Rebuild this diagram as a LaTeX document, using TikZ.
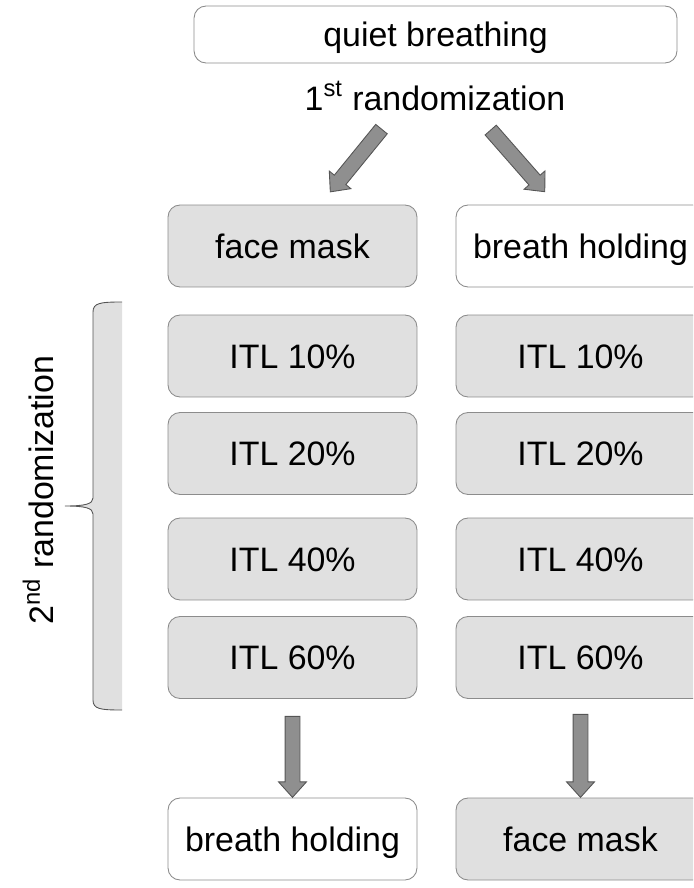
\documentclass[tikz,border=0pt]{standalone}
\usepackage{fontspec}
\setmainfont{Liberation Sans}
\usetikzlibrary{shapes.arrows}
\definecolor{boxgray}{HTML}{E0E0E0}
\definecolor{edgegray}{HTML}{8C8C8C}
\definecolor{arrowgray}{HTML}{8F8F8F}
\definecolor{arrowedge}{HTML}{555555}
\begin{document}
\begin{tikzpicture}[x=0.02cm, y=-0.02cm,
	every node/.style={font=\fontsize{19.3}{23}\selectfont},
	stage/.style={draw=edgegray, rounded corners=0.24cm, minimum width=4.98cm, minimum height=1.64cm, inner sep=0pt, text height=0.49cm, text depth=0pt, line width=0.5pt},
	greybox/.style={stage, fill=boxgray},
	whitebox/.style={stage, fill=white},
	blockarrow/.style={single arrow, draw=arrowedge, fill=arrowgray, sloped, allow upside down, inner xsep=0pt, inner ysep=0.14cm, single arrow head extend=0.13cm, single arrow tip angle=84, line width=0.5pt}]
	\clip (0,0) rectangle (693,888);

	\node[whitebox, minimum width=9.66cm, minimum height=1.14cm] (quiet) at (435.5,34.5) {quiet breathing};
	\node (rand1) at (435,96) {1\textsuperscript{st} randomization};

	\node[greybox] (fmA) at (292.5,246) {face mask};
	\node[whitebox] (bhA) at (580.5,246) {breath holding};
	\foreach \lvl/\y [count=\i] in {10/356, 20/453.5, 40/559, 60/657.5} {
		\node[greybox] (itlL\i) at (292.5,\y) {ITL \lvl\%};
		\node[greybox] (itlR\i) at (580.5,\y) {ITL \lvl\%};
	}
	\node[whitebox] (bhB) at (292.5,839) {breath holding};
	\node[greybox] (fmB) at (580.5,839) {face mask};

	% block arrows
	\path ([xshift=-1.02cm,yshift=-0.6cm]rand1.center) -- node[blockarrow, minimum height=1.62cm] {} ([xshift=0.81cm,yshift=0.32cm]fmA.north);
	\path ([xshift=1.06cm,yshift=-0.62cm]rand1.center) -- node[blockarrow, minimum height=1.64cm] {} ([xshift=-0.77cm,yshift=0.32cm]bhA.north);
	\path ([yshift=-0.28cm]itlL4.south) -- node[blockarrow, minimum height=1.62cm] {} ([yshift=0.1cm]bhB.north);
	\path ([yshift=-0.24cm]itlR4.south) -- node[blockarrow, minimum height=1.66cm] {} ([yshift=0.1cm]fmB.north);

	% brace
	\fill[boxgray] (122,302) .. controls (100,302) and (93,303) .. (93,312) -- (93,498) .. controls (93,504) and (85,506) .. (65,506) .. controls (85,506) and (93,508) .. (93,514) -- (93,700) .. controls (93,709) and (100,710) .. (122,710) -- cycle;
	\draw[arrowedge, line width=0.5pt] (122,302) .. controls (100,302) and (93,303) .. (93,312) -- (93,498) .. controls (93,504) and (85,506) .. (65,506) .. controls (85,506) and (93,508) .. (93,514) -- (93,700) .. controls (93,709) and (100,710) .. (122,710);
	\node[rotate=90] (rand2) at (38,490) {2\textsuperscript{nd} randomization};
\end{tikzpicture}
\end{document}
